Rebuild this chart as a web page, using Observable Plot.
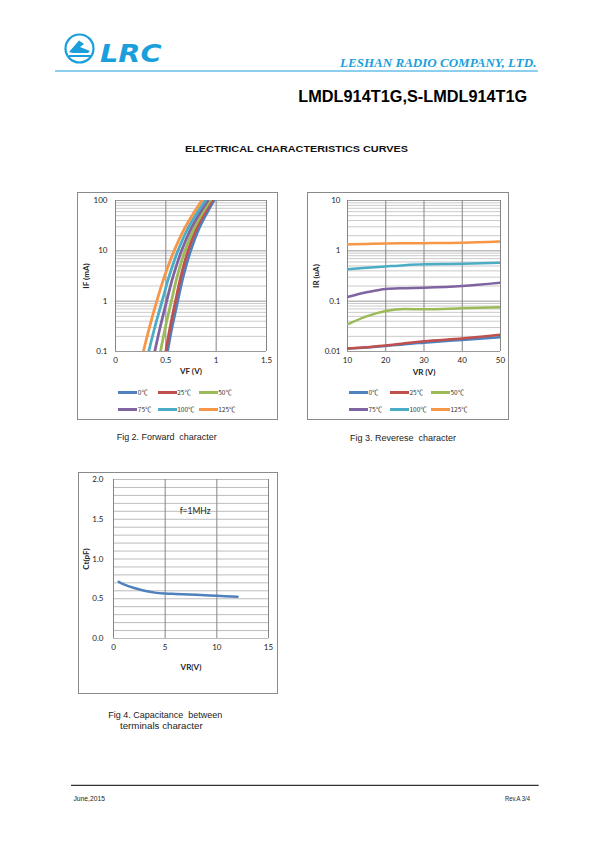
<!DOCTYPE html>
<html><head><meta charset="utf-8">
<script src="https://cdn.jsdelivr.net/npm/d3@7"></script>
<script src="https://cdn.jsdelivr.net/npm/@observablehq/plot@0.6"></script>
<style>
body{margin:0;background:#fff}
#page{position:relative;width:595px;height:842px;overflow:hidden;background:#fff}
#page > svg text{white-space:pre}
.box{position:absolute;border:1px solid #8a8a8a;box-sizing:border-box}
.chart{position:absolute}
.leg{position:absolute;font-family:"Noto Sans CJK SC","DejaVu Sans";font-size:6.5px;color:#333;white-space:nowrap;line-height:1}
.sw{position:absolute;height:3px}
</style></head>
<body><div id="page">
<svg width="595" height="842" style="position:absolute;left:0;top:0" xml:space="preserve">
  <g fill="none" stroke="#1a9fdc">
    <circle cx="79.5" cy="48.5" r="14" stroke-width="2.2"/>
  </g>
  <g fill="#1a9fdc">
    <path d="M69,52 L79,40.5 L84,44 L80,47 L90,51 L88,53 L73,53 Z"/>
    <rect x="69" y="55" width="22" height="2"/>
  </g>
  <text x="100" y="61.7" font-family="DejaVu Sans" font-weight="bold" font-style="italic" font-size="24.5" fill="#1a9fdc" textLength="61.5" lengthAdjust="spacingAndGlyphs">LRC</text>
  <text x="340" y="67.3" font-family="Liberation Serif" font-weight="bold" font-style="italic" font-size="13" fill="#1a9fdc" textLength="196.5" lengthAdjust="spacingAndGlyphs">LESHAN RADIO COMPANY, LTD.</text>
  <line x1="55" y1="71" x2="538" y2="71" stroke="#1a9fdc" stroke-width="1"/>
  <text x="298.3" y="101.7" font-family="Liberation Sans" font-weight="bold" font-size="16.3" fill="#000" textLength="229" lengthAdjust="spacingAndGlyphs">LMDL914T1G,S-LMDL914T1G</text>
  <text x="185" y="152.4" font-family="Liberation Sans" font-weight="bold" font-size="9.4" fill="#111" textLength="223" lengthAdjust="spacingAndGlyphs">ELECTRICAL CHARACTERISTICS CURVES</text>
  <text x="116.7" y="440.3" font-family="Liberation Sans" font-size="8.4" fill="#222" textLength="100" lengthAdjust="spacingAndGlyphs">Fig 2. Forward  character</text>
  <text x="350" y="441" font-family="Liberation Sans" font-size="8.4" fill="#222" textLength="106" lengthAdjust="spacingAndGlyphs">Fig 3. Reverese  character</text>
  <text x="108.3" y="718" font-family="Liberation Sans" font-size="8.4" fill="#222" textLength="114" lengthAdjust="spacingAndGlyphs">Fig 4. Capacitance  between</text>
  <text x="120" y="729" font-family="Liberation Sans" font-size="8.4" fill="#222" textLength="82.7" lengthAdjust="spacingAndGlyphs">terminals character</text>
  <line x1="71" y1="785.3" x2="538.7" y2="785.3" stroke="#000" stroke-width="1"/>
  <text x="73.5" y="801.3" font-family="Liberation Sans" font-size="7" fill="#222" textLength="31.5" lengthAdjust="spacingAndGlyphs">June,2015</text>
  <text x="505" y="801.3" font-family="Liberation Sans" font-size="7" fill="#222" textLength="25" lengthAdjust="spacingAndGlyphs">Rev.A 3/4</text>
</svg>
<div class="box" style="left:77px;top:192px;width:201px;height:228px"></div>
<div class="box" style="left:307px;top:192px;width:202px;height:228px"></div>
<div class="box" style="left:78px;top:472px;width:200px;height:222px"></div>
<div id="c1" class="chart" style="left:77px;top:192px"></div>
<div id="c2" class="chart" style="left:307px;top:192px"></div>
<div id="c3" class="chart" style="left:78px;top:472px"></div>
</div>
<script>
// ---------- shared ----------
const temps = ["0℃", "25℃", "50℃", "75℃", "100℃", "125℃"];
const tempColors = ["#4F81BD", "#C0504D", "#9BBB59", "#8064A2", "#4BACC6", "#F79646"];

// ---------- Fig 2: forward characteristic (IF in mA vs VF in V) ----------
const ifLevels = [0.1, 0.3, 1, 3, 10, 30, 100];
const vf0   = [0.517, 0.561, 0.618, 0.671, 0.746, 0.837, 0.978];
const vf25  = [0.500, 0.542, 0.596, 0.648, 0.720, 0.813, 0.960];
const vf50  = [0.447, 0.495, 0.555, 0.611, 0.690, 0.788, 0.940];
const vf75  = [0.390, 0.443, 0.508, 0.570, 0.656, 0.759, 0.918];
const vf100 = [0.330, 0.390, 0.463, 0.530, 0.620, 0.727, 0.892];
const vf125 = [0.277, 0.337, 0.410, 0.484, 0.582, 0.694, 0.858];
const vfTicks = [0, 0.5, 1, 1.5];
const ifTicks = [0.1, 1, 10, 100];
const ifMinor = [0.2,0.3,0.4,0.5,0.6,0.7,0.8,0.9,2,3,4,5,6,7,8,9,20,30,40,50,60,70,80,90];

// ---------- Fig 3: reverse characteristic (IR in uA vs VR in V) ----------
const vrLevels = [10, 15, 20, 25, 30, 40, 50];
const ir0   = [0.0115, 0.0120, 0.0128, 0.0140, 0.0150, 0.0170, 0.0192];
const ir25  = [0.0115, 0.0122, 0.0131, 0.0146, 0.0160, 0.0182, 0.0215];
const ir50  = [0.0347, 0.0500, 0.0640, 0.0695, 0.0688, 0.0720, 0.0755];
const ir75  = [0.121, 0.150, 0.175, 0.181, 0.185, 0.200, 0.233];
const ir100 = [0.430, 0.460, 0.490, 0.520, 0.540, 0.552, 0.580];
const ir125 = [1.34, 1.37, 1.40, 1.41, 1.42, 1.45, 1.54];
const vrTicks = [10, 20, 30, 40, 50];
const irTicks = [0.01, 0.1, 1, 10];
const irMinor = [0.02,0.03,0.04,0.05,0.06,0.07,0.08,0.09,0.2,0.3,0.4,0.5,0.6,0.7,0.8,0.9,2,3,4,5,6,7,8,9];

// ---------- Fig 4: capacitance vs reverse voltage ----------
const vrCap = [0.5, 1, 2, 3, 4, 5, 6, 8, 10, 12];
const ctCap = [0.712, 0.68, 0.635, 0.60, 0.577, 0.566, 0.560, 0.550, 0.538, 0.525];
const capXTicks = [0, 5, 10, 15];
const capYTicks = [0, 0.5, 1.0, 1.5, 2.0];
const capYGrid = [0,0.1,0.2,0.3,0.4,0.5,0.6,0.7,0.8,0.9,1.0,1.1,1.2,1.3,1.4,1.5,1.6,1.7,1.8,1.9,2.0];
const capNote = "f=1MHz";

// ---------- build tables ----------
const fwdSeries = [vf0, vf25, vf50, vf75, vf100, vf125];
const fwdData = fwdSeries.flatMap((arr, s) => arr.map((v, i) => ({series: temps[s], vf: v, i: ifLevels[i]})));
const revSeries = [ir0, ir25, ir50, ir75, ir100, ir125];
const revData = revSeries.flatMap((arr, s) => arr.map((v, i) => ({series: temps[s], vr: vrLevels[i], ir: v})));
const capData = vrCap.map((v, i) => ({vr: v, ct: ctCap[i]}));

const baseStyle = {fontFamily: "Lato, 'Liberation Sans', sans-serif", fontSize: "8px", background: "transparent", color: "#222", overflow: "visible"};

// Fig 2
const p1 = Plot.plot({
  width: 201, height: 193,
  marginLeft: 38, marginRight: 12, marginTop: 8, marginBottom: 34,
  style: baseStyle,
  x: {domain: [0, 1.5]},
  y: {type: "log", domain: [0.1, 100]},
  color: {domain: temps, range: tempColors},
  marks: [
    Plot.ruleY(ifMinor, {stroke: "#c4c4c4", strokeWidth: 0.9}),
    Plot.ruleY(ifTicks, {stroke: "#9a9a9a", strokeWidth: 1}),
    Plot.ruleX(vfTicks, {stroke: "#858585", strokeWidth: 1}),
    Plot.axisX({ticks: vfTicks, tickSize: 0, tickPadding: 6, label: null, tickFormat: d => String(d)}),
    Plot.axisY({ticks: ifTicks, tickSize: 0, tickPadding: 8, label: null, tickFormat: d => String(d)}),
    Plot.line(fwdData, {x: "vf", y: "i", z: "series", stroke: "series", strokeWidth: 2.8, curve: "catmull-rom", clip: true}),
    Plot.text(["VF (V)"], {frameAnchor: "bottom", dy: 22, fontWeight: "bold", fontSize: 8}),
    Plot.text(["IF (mA)"], {frameAnchor: "left", textAnchor: "middle", dx: -29, rotate: -90, fontWeight: "bold", fontSize: 8})
  ]
});
document.getElementById("c1").appendChild(p1);

// Fig 3
const p2 = Plot.plot({
  width: 202, height: 193,
  marginLeft: 40, marginRight: 9, marginTop: 8, marginBottom: 34,
  style: baseStyle,
  x: {domain: [10, 50]},
  y: {type: "log", domain: [0.01, 10]},
  color: {domain: temps, range: tempColors},
  marks: [
    Plot.ruleY(irMinor, {stroke: "#c4c4c4", strokeWidth: 0.9}),
    Plot.ruleY(irTicks, {stroke: "#9a9a9a", strokeWidth: 1}),
    Plot.ruleX(vrTicks, {stroke: "#858585", strokeWidth: 1}),
    Plot.axisX({ticks: vrTicks, tickSize: 0, tickPadding: 6, label: null, tickFormat: d => String(d)}),
    Plot.axisY({ticks: irTicks, tickSize: 0, tickPadding: 7, label: null, tickFormat: d => String(d)}),
    Plot.line(revData, {x: "vr", y: "ir", z: "series", stroke: "series", strokeWidth: 2.5, curve: "monotone-x", clip: true}),
    Plot.text(["VR (V)"], {frameAnchor: "bottom", dy: 23, fontWeight: "bold", fontSize: 8}),
    Plot.text(["IR (uA)"], {frameAnchor: "left", textAnchor: "middle", dx: -31, rotate: -90, fontWeight: "bold", fontSize: 8})
  ]
});
document.getElementById("c2").appendChild(p2);

// Fig 4
const p3 = Plot.plot({
  width: 200, height: 208,
  marginLeft: 35, marginRight: 10, marginTop: 7, marginBottom: 42,
  style: baseStyle,
  x: {domain: [0, 15]},
  y: {domain: [0, 2]},
  marks: [
    Plot.ruleY(capYGrid, {stroke: "#b4b4b4", strokeWidth: 0.9}),
    Plot.ruleX(capXTicks, {stroke: "#858585", strokeWidth: 1}),
    Plot.axisX({ticks: capXTicks, tickSize: 0, tickPadding: 6, label: null, tickFormat: d => String(d)}),
    Plot.axisY({ticks: capYTicks, tickSize: 0, tickPadding: 10, label: null, tickFormat: d3.format(".1f")}),
    Plot.line(capData, {x: "vr", y: "ct", stroke: "#4F81BD", strokeWidth: 2.5, curve: "catmull-rom"}),
    Plot.text([capNote], {x: 6.4, y: 1.6, textAnchor: "start", fontSize: 8.5}),
    Plot.text(["VR(V)"], {frameAnchor: "bottom", dy: 31, fontWeight: "bold", fontSize: 8}),
    Plot.text(["Ct(pF)"], {frameAnchor: "left", textAnchor: "middle", dx: -27, rotate: -90, fontWeight: "bold", fontSize: 8})
  ]
});
document.getElementById("c3").appendChild(p3);

// legends (HTML)
function legend(containerLeft, colOffsets, rowsY) {
  const page = document.getElementById("page");
  temps.forEach((t, k) => {
    const row = Math.floor(k / 3), col = k % 3;
    const x = containerLeft + colOffsets[col], y = rowsY[row];
    const sw = document.createElement("div");
    sw.className = "sw";
    sw.style.left = x + "px"; sw.style.top = (y - 1.5) + "px";
    sw.style.width = "19px"; sw.style.background = tempColors[k];
    page.appendChild(sw);
    const lb = document.createElement("div");
    lb.className = "leg";
    lb.textContent = t;
    lb.style.left = (x + 19.5) + "px"; lb.style.top = (y - 3.6) + "px";
    page.appendChild(lb);
  });
}
legend(118.3, [0, 39.4, 80.4], [392.7, 409.3]);
legend(349, [0, 41, 82], [392.7, 409.3]);
</script>
</body></html>
